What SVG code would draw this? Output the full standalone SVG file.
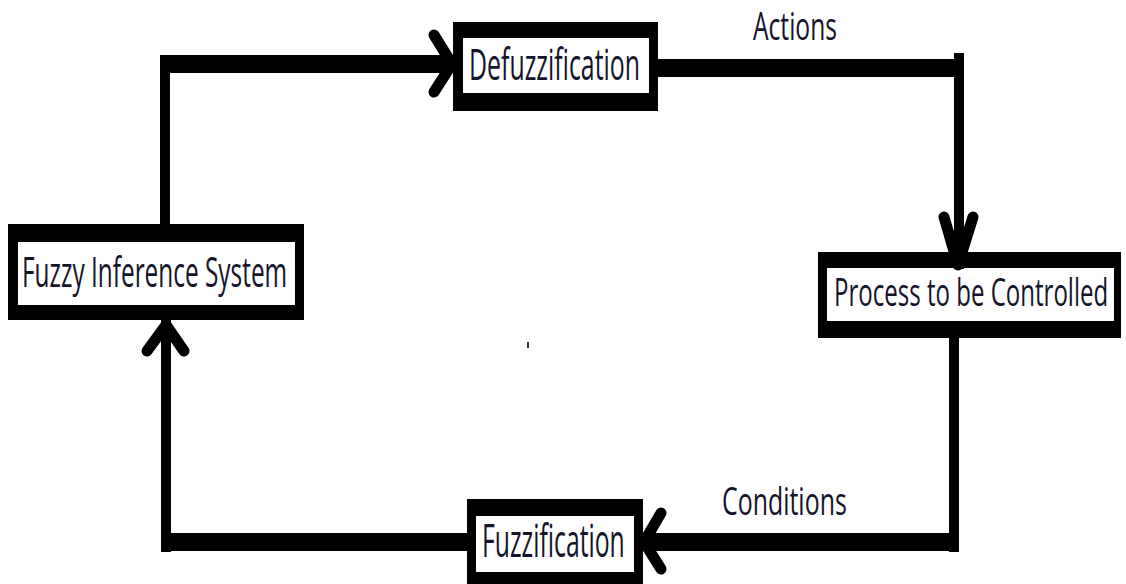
<svg xmlns="http://www.w3.org/2000/svg" width="1126" height="584" viewBox="0 0 1126 584">
<style>
.outer{fill:#000}
.inner{fill:#fff}
.lbl{font-family:"Open Sans","Noto Sans",sans-serif;fill:#14142a}
.v{stroke:#000;stroke-width:10;fill:none;stroke-linecap:square}
.h{stroke:#000;stroke-width:18;fill:none;stroke-linecap:butt}
.head{stroke:#000;stroke-width:11;fill:none;stroke-linecap:round;stroke-linejoin:round}
</style>
<rect width="1126" height="584" fill="#fff"/>
<g id="defuzzification">
<rect class="outer" x="453" y="22" width="205" height="89"/>
<rect class="inner" x="463" y="38" width="186" height="55"/>
<text class="lbl" transform="translate(469,80) scale(0.6,1)" font-size="44" textLength="285" lengthAdjust="spacingAndGlyphs">Defuzzification</text>
</g>
<g id="fuzzy-inference-system">
<rect class="outer" x="8" y="224" width="296" height="96"/>
<rect class="inner" x="18" y="242" width="277" height="63"/>
<text class="lbl" transform="translate(22,287) scale(0.6,1)" font-size="42" textLength="442" lengthAdjust="spacingAndGlyphs">Fuzzy Inference System</text>
</g>
<g id="process">
<rect class="outer" x="818" y="252" width="303" height="86"/>
<rect class="inner" x="827" y="268" width="287" height="53"/>
<text class="lbl" transform="translate(834,306) scale(0.6,1)" font-size="38" textLength="457" lengthAdjust="spacingAndGlyphs">Process to be Controlled</text>
</g>
<g id="fuzzification">
<rect class="outer" x="467" y="499" width="176" height="90"/>
<rect class="inner" x="476" y="516" width="158" height="56"/>
<text class="lbl" transform="translate(482,557) scale(0.6,1)" font-size="45" textLength="238" lengthAdjust="spacingAndGlyphs">Fuzzification</text>
</g>
<g id="connectors">
<g id="fis-to-defuzz">
<line class="v" x1="165" y1="60" x2="165" y2="224"/>
<line class="h" x1="160" y1="64" x2="452" y2="64"/>
<polyline class="head" points="434,35 452,64 434,92"/>
</g>
<g id="defuzz-to-process">
<line class="h" x1="658" y1="68" x2="963" y2="68"/>
<line class="v" x1="959" y1="58" x2="959" y2="264"/>
<polyline class="head" points="944,217 958,265 973,217"/>
</g>
<g id="process-to-fuzz">
<line class="v" x1="954" y1="338" x2="954" y2="547"/>
<line class="h" x1="959" y1="542" x2="643" y2="542"/>
<polyline class="head" points="661,513 644,542 661,569"/>
</g>
<g id="fuzz-to-fis">
<line class="h" x1="467" y1="542" x2="161" y2="542"/>
<line class="v" x1="166" y1="547" x2="166" y2="325"/>
<polyline class="head" points="147,351 166,325 184,351"/>
</g>
</g>
<text class="lbl" transform="translate(753,40) scale(0.6,1)" font-size="39" textLength="140" lengthAdjust="spacingAndGlyphs">Actions</text>
<text class="lbl" transform="translate(722,515) scale(0.6,1)" font-size="38" textLength="208" lengthAdjust="spacingAndGlyphs">Conditions</text>
<rect x="527" y="342" width="2" height="6" fill="#333"/>
</svg>
